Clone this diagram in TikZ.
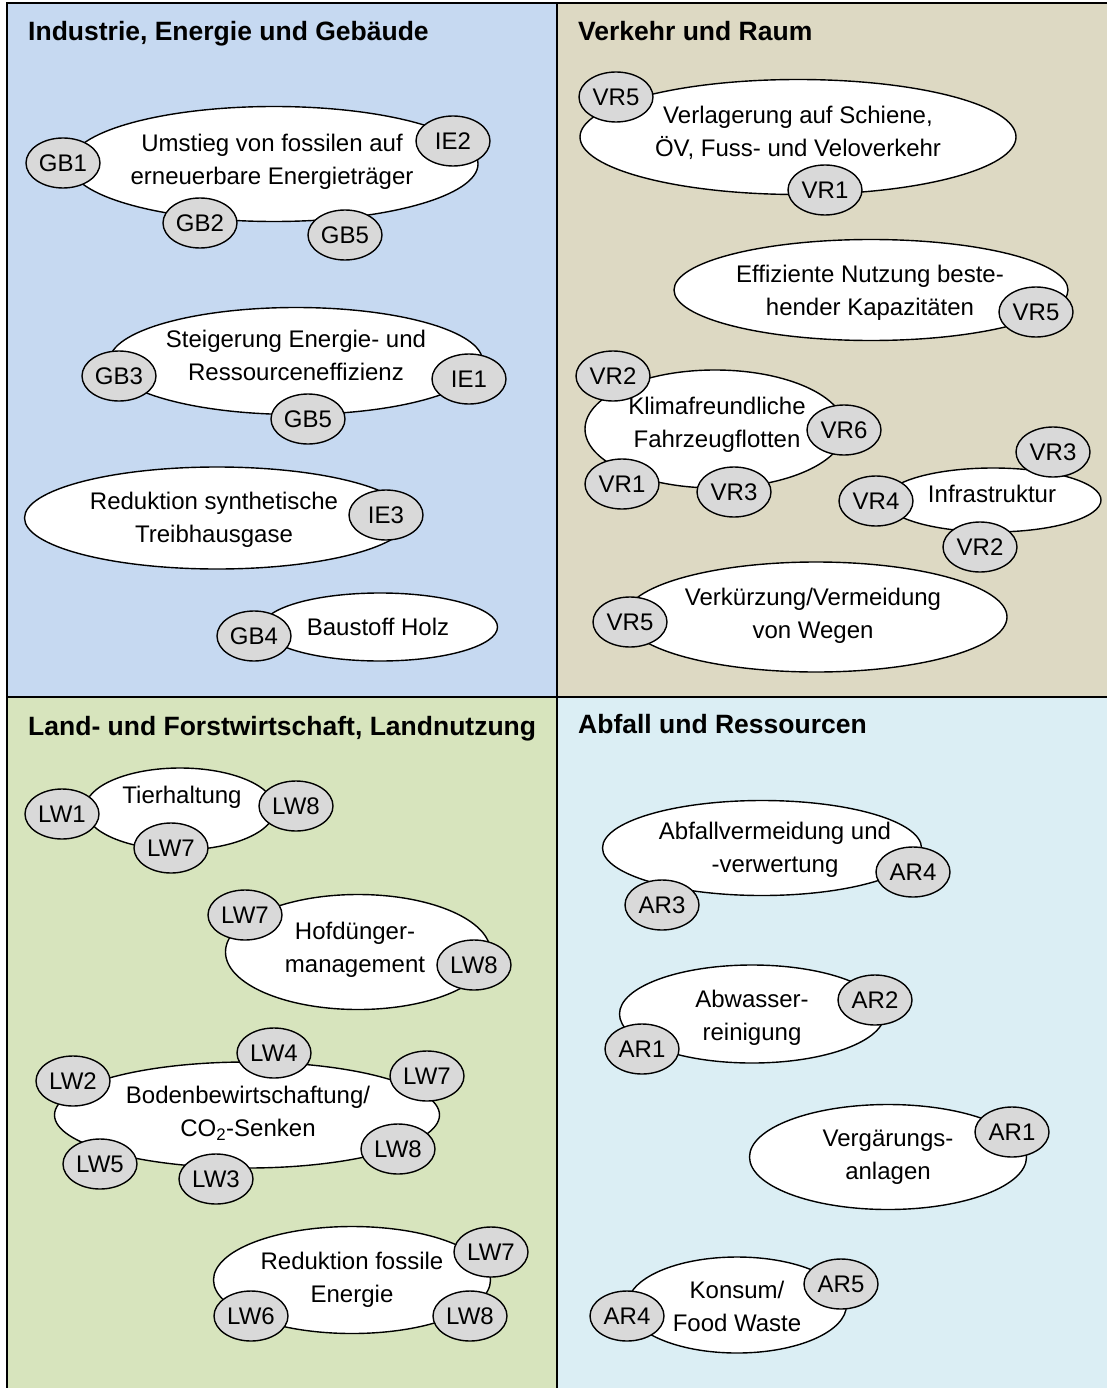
\documentclass[tikz,border=0pt]{standalone}
\usepackage{fontspec}
\setmainfont{Liberation Sans}
\usepackage{xcolor}
\usepackage{tikz}
\usetikzlibrary{shapes.geometric,positioning}

\definecolor{ieblue}{HTML}{C6D9F1}
\definecolor{vrtan}{HTML}{DDD9C3}
\definecolor{lwgreen}{HTML}{D7E4BD}
\definecolor{araqua}{HTML}{DBEEF4}
\definecolor{codegray}{HTML}{D9D9D9}

\newcommand{\lblfont}{\fontsize{24}{33}\selectfont}
\newcommand{\ttlfont}{\fontsize{26.5}{32}\selectfont\bfseries}

\begin{document}
\begin{tikzpicture}[x=1pt, y=-1pt,
    topic/.style={ellipse, draw, fill=white, line width=1.4pt, inner sep=0pt},
    code/.style={ellipse, draw, fill=codegray, line width=1.4pt, inner sep=0pt,
                 minimum width=74, minimum height=50, font=\lblfont},
    txt/.style={align=center, font=\lblfont, inner sep=0pt, yshift=-2pt},
    title/.style={anchor=base west, font=\ttlfont, inner sep=0pt}]
    \useasboundingbox (0,0) rectangle (1107,1388);

    % Panels
    \fill[ieblue] (8,3) rectangle (557,697);
    \fill[vrtan] (557,3) rectangle (1107,697);
    \fill[lwgreen] (8,697) rectangle (557,1388);
    \fill[araqua] (557,697) rectangle (1107,1388);
    \draw[line width=2pt] (7,1388) -- (7,3) -- (1107,3);
    \draw[line width=2pt] (557,3) -- (557,1388);
    \draw[line width=2pt] (7,697) -- (1107,697);

    \node[title] (tie) at (28,41) {Industrie, Energie und Gebäude};
    \node[title] (tvr) at (578,41) {Verkehr und Raum};
    \node[title] (tlw) at (28,735) {Land- und Forstwirtschaft, Landnutzung};
    \node[title] (tar) at (578,733) {Abfall und Ressourcen};

    % Industrie, Energie und Gebaeude
    \node[topic, minimum width=408, minimum height=115] (umstieg) at (274,164) {};
    \node[txt] (umstiegt) at (272,160) {Umstieg von fossilen auf\\erneuerbare Energieträger};
    \node[code] (gb1) at (63,163) {GB1};
    \node[code] (ie2) at (453,141) {IE2};
    \node[code] (gb2) at (200,223) {GB2};
    \node[code] (gb5a) at (345,235) {GB5};

    \node[topic, minimum width=373, minimum height=107] (steig) at (296,361) {};
    \node[txt] (steigt) at (296,353) {Steigerung Energie- und\\Ressourceneffizienz};
    \node[code] (gb3) at (119,376) {GB3};
    \node[code] (ie1) at (469,379) {IE1};
    \node[code] (gb5b) at (308,419) {GB5};

    \node[topic, minimum width=385, minimum height=102] (synth) at (217,518) {};
    \node[txt] (syntht) at (214,518) {Reduktion synthetische\\Treibhausgase};
    \node[code] (ie3) at (386,515) {IE3};

    \node[topic, minimum width=235, minimum height=68] (holz) at (380,627) {};
    \node[txt] (holzt) at (378,625) {Baustoff Holz};
    \node[code] (gb4) at (254,636) {GB4};

    % Verkehr und Raum
    \node[topic, minimum width=436, minimum height=115] (verl) at (798,137) {};
    \node[txt] (verlt) at (798,131) {Verlagerung auf Schiene,\\ÖV, Fuss- und Veloverkehr};
    \node[code] (vr5a) at (616,97) {VR5};
    \node[code] (vr1a) at (825,190) {VR1};

    \node[topic, minimum width=394, minimum height=101] (effiz) at (871,290) {};
    \node[txt] (effizt) at (870,291) {Effiziente Nutzung beste-\\hender Kapazitäten};
    \node[code] (vr5b) at (1036,312) {VR5};

    \node[topic, minimum width=260, minimum height=118] (flotte) at (715,429) {};
    \node[txt] (flottet) at (717,423) {Klimafreundliche\\Fahrzeugflotten};
    \node[code] (vr2a) at (613,376) {VR2};
    \node[code] (vr6) at (844,430) {VR6};
    \node[code] (vr1b) at (622,484) {VR1};
    \node[code] (vr3a) at (734,492) {VR3};

    \node[topic, minimum width=216, minimum height=64] (infra) at (993,500) {};
    \node[txt] (infrat) at (992,492) {Infrastruktur};
    \node[code] (vr3b) at (1053,452) {VR3};
    \node[code] (vr4) at (876,501) {VR4};
    \node[code] (vr2b) at (980,547) {VR2};

    \node[topic, minimum width=382, minimum height=110] (wege) at (816,617) {};
    \node[txt] (weget) at (813,614) {Verkürzung/Vermeidung\\von Wegen};
    \node[code] (vr5c) at (630,622) {VR5};

    % Land- und Forstwirtschaft
    \node[topic, minimum width=190, minimum height=82] (tier) at (180,809) {};
    \node[txt] (tiert) at (182,795) {Tierhaltung};
    \node[code] (lw1) at (62,814) {LW1};
    \node[code] (lw8a) at (296,806) {LW8};
    \node[code] (lw7a) at (171,848) {LW7};

    \node[topic, minimum width=265, minimum height=115] (hof) at (358,952) {};
    \node[txt] (hoft) at (355,948) {Hofdünger-\\management};
    \node[code] (lw7b) at (245,915) {LW7};
    \node[code] (lw8b) at (474,965) {LW8};

    \node[topic, minimum width=385, minimum height=106] (boden) at (247,1115) {};
    \node[txt] (bodent) at (248,1111) {Bodenbewirtschaftung/\\CO\textsubscript{2}-Senken};
    \node[code] (lw4) at (274,1053) {LW4};
    \node[code] (lw2) at (73,1081) {LW2};
    \node[code] (lw7c) at (427,1076) {LW7};
    \node[code] (lw8c) at (398,1149) {LW8};
    \node[code] (lw5) at (100,1164) {LW5};
    \node[code] (lw3) at (216,1179) {LW3};

    \node[topic, minimum width=277, minimum height=107] (fossil) at (352,1280) {};
    \node[txt] (fossilt) at (352,1278) {Reduktion fossile\\Energie};
    \node[code] (lw7d) at (491,1252) {LW7};
    \node[code] (lw6) at (251,1316) {LW6};
    \node[code] (lw8d) at (470,1316) {LW8};

    % Abfall und Ressourcen
    \node[topic, minimum width=319, minimum height=95] (abfall) at (762,848) {};
    \node[txt] (abfallt) at (775,848) {Abfallvermeidung und\\-verwertung};
    \node[code] (ar3) at (662,905) {AR3};
    \node[code] (ar4a) at (913,872) {AR4};

    \node[topic, minimum width=265, minimum height=98] (abw) at (752,1014) {};
    \node[txt] (abwt) at (752,1016) {Abwasser-\\reinigung};
    \node[code] (ar2) at (875,1000) {AR2};
    \node[code] (ar1a) at (642,1049) {AR1};

    \node[topic, minimum width=277, minimum height=105] (verg) at (888,1157) {};
    \node[txt] (vergt) at (888,1155) {Vergärungs-\\anlagen};
    \node[code] (ar1b) at (1012,1132) {AR1};

    \node[topic, minimum width=219, minimum height=96] (konsum) at (737,1305) {};
    \node[txt] (konsumt) at (737,1304) {Konsum/\\Food Waste};
    \node[code] (ar5) at (841,1284) {AR5};
    \node[code] (ar4b) at (627,1316) {AR4};
\end{tikzpicture}
\end{document}
